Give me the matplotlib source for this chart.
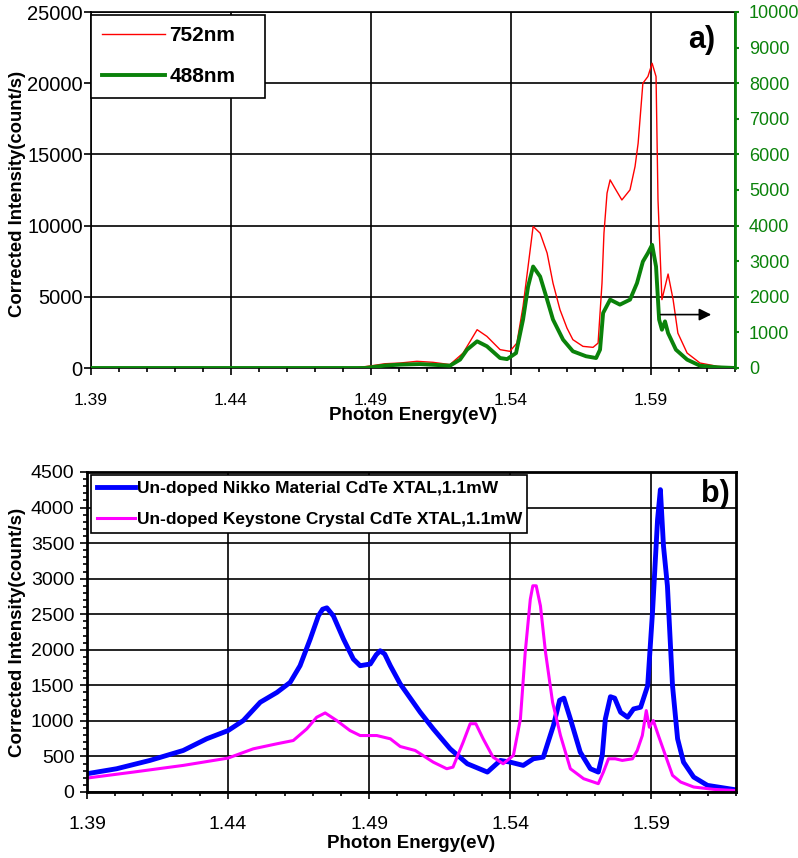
import matplotlib
matplotlib.use("Agg")
import matplotlib.pyplot as plt
from matplotlib.ticker import MultipleLocator

plt.rcParams['font.family'] = ['Liberation Sans', 'DejaVu Sans']

# ---- panel a) : 752nm (left axis), 488nm (right axis)
x_752 = [1.39, 1.45, 1.484, 1.490, 1.4950, 1.5004, 1.5064, 1.5121, 1.5182, 1.5229, 1.5279,
         1.5314, 1.5361, 1.5396, 1.5421, 1.5443, 1.5461, 1.5479, 1.5504, 1.5529,
         1.5550, 1.5575, 1.5600, 1.5621, 1.5657, 1.5693, 1.5711, 1.5725, 1.5732,
         1.5743, 1.5754, 1.5771, 1.5796, 1.5825, 1.5843, 1.5854, 1.5871, 1.5889,
         1.5904, 1.5918, 1.5925, 1.5939, 1.5961, 1.5979, 1.5996, 1.6029, 1.6075,
         1.6136, 1.62]
y_752 = [0, 0, 0, 150, 300, 350, 470, 400, 240, 1050, 2690,
         2220, 1290, 1170, 1750, 4330, 7130, 9940, 9470, 8070,
         5960, 4090, 2800, 1990, 1520, 1450, 1750, 5960, 9470,
         12280, 13210, 12630, 11800, 12510, 14150, 15780, 20000, 20470,
         21400, 20470, 11800, 4800, 6600, 4800, 2450, 1050, 350,
         120, 0]

x_488 = [1.39, 1.45, 1.488, 1.4950, 1.5004, 1.5075, 1.5182, 1.5218, 1.5243, 1.5279, 1.5314,
         1.5361, 1.5386, 1.5418, 1.5443, 1.5461, 1.5479, 1.5504, 1.5529, 1.5550,
         1.5586, 1.5621, 1.5668, 1.5704, 1.5718, 1.5729, 1.5754, 1.5789, 1.5825,
         1.5850, 1.5871, 1.5889, 1.5904, 1.5918, 1.5929, 1.5939, 1.5950, 1.5961,
         1.5989, 1.6029, 1.6075, 1.6136, 1.62]
y_488 = [0, 0, 0, 70, 95, 110, 65, 235, 515, 750, 610,
         280, 250, 420, 1360, 2290, 2850, 2570, 1920, 1360,
         795, 470, 330, 280, 515, 1545, 1920, 1780, 1920,
         2385, 2990, 3230, 3460, 2850, 1360, 1075, 1310, 980,
         515, 235, 65, 20, 0]

# ---- panel b) : two un-doped samples
x_nikko = [1.39, 1.4005, 1.4123, 1.4241, 1.4324, 1.44, 1.4454, 1.4514, 1.4573, 1.4620,
           1.4655, 1.4691, 1.4720, 1.4735, 1.4750, 1.4773, 1.4809, 1.4844, 1.4868, 1.4904,
           1.4925, 1.4939, 1.4955, 1.4975, 1.5010, 1.5081, 1.5127, 1.5187, 1.5248, 1.5319,
           1.5365, 1.5400, 1.5446, 1.5482, 1.5517, 1.5553, 1.5575, 1.5590, 1.5613, 1.5648,
           1.5684, 1.5712, 1.5726, 1.5737, 1.5755, 1.5770, 1.5791, 1.5816, 1.5837, 1.5862,
           1.5887, 1.5904, 1.5922, 1.5932, 1.5943, 1.5957, 1.5975, 1.5993, 1.6014, 1.6050,
           1.6099, 1.62]
y_nikko = [257, 327, 444, 584, 748, 864, 1005, 1262, 1400, 1542,
           1776, 2150, 2477, 2570, 2590, 2477, 2150, 1869, 1776, 1800,
           1930, 1986, 1940, 1776, 1520, 1121, 888, 607, 397, 280,
           444, 420, 374, 467, 490, 935, 1290, 1320, 1028, 561,
           327, 280, 514, 1028, 1340, 1320, 1121, 1051, 1168, 1192,
           1495, 2523, 3832, 4252, 3458, 2897, 1495, 748, 420, 210,
           93, 30]

x_keystone = [1.39, 1.4064, 1.4241, 1.44, 1.4489, 1.4573, 1.4631, 1.4679, 1.4714, 1.4744,
              1.4785, 1.4832, 1.4868, 1.4927, 1.4975, 1.5010, 1.5063, 1.5127, 1.5175,
              1.5197, 1.5233, 1.5258, 1.5278, 1.5304, 1.5339, 1.5375, 1.5411, 1.5436, 1.5453,
              1.5471, 1.5480, 1.5492, 1.5507, 1.5525, 1.5550, 1.5578, 1.5613, 1.5660, 1.5712,
              1.5730, 1.5748, 1.5772, 1.5797, 1.5833, 1.5850, 1.5868, 1.5882, 1.5893,
              1.5907, 1.5925, 1.5950, 1.5975, 1.6004, 1.6050, 1.6121, 1.62]
y_keystone = [196, 280, 374, 477, 607, 678, 724, 888, 1051, 1112,
              1005, 864, 794, 794, 748, 640, 584, 420, 327,
              350, 700, 960, 960, 748, 490, 397, 514, 1028, 1963,
              2710, 2900, 2900, 2617, 1963, 1262, 794, 327, 187, 117,
              280, 467, 467, 444, 467, 584, 794, 1145, 911,
              1005, 794, 514, 234, 140, 70, 37, 20]

x_ticks = [1.39, 1.44, 1.49, 1.54, 1.59]
x_tick_labels = ["1.39", "1.44", "1.49", "1.54", "1.59"]

green = '#0a820a'
W, H = 798, 858
fig = plt.figure(figsize=(W / 100, H / 100), dpi=100)

# ------------------------------------------------------------- panel a
ax1 = fig.add_axes([91 / W, 1 - 368 / H, (735 - 91) / W, (368 - 12) / H])
ax1r = ax1.twinx()

l1, = ax1.plot(x_752, y_752, color='red', lw=1.0, label='752nm')
l2, = ax1r.plot(x_488, y_488, color=green, lw=2.8, label='488nm')

ax1.set_xlim(1.39, 1.62)
ax1.set_ylim(0, 25000)
ax1r.set_ylim(0, 10000)
ax1.set_xticks(x_ticks)
ax1.set_xticklabels(x_tick_labels)
ax1.xaxis.set_minor_locator(MultipleLocator(0.01))
ax1.yaxis.set_major_locator(MultipleLocator(5000))
ax1r.yaxis.set_major_locator(MultipleLocator(1000))

ax1.grid(True, which='major', color='black', lw=1.2)
ax1.tick_params(axis='x', which='major', direction='out', length=5, width=1.2,
                labelsize=12.5, pad=13)
ax1.tick_params(axis='x', which='minor', direction='out', length=3, width=1.2)
ax1.tick_params(axis='y', direction='out', length=5, width=1.2, labelsize=14.5, pad=1)
ax1r.tick_params(axis='y', direction='out', length=3, width=1.5, labelsize=13,
                 colors=green, pad=7)
for s in ax1.spines.values():
    s.set_linewidth(1.2)
ax1r.spines['right'].set_color(green)
ax1r.spines['right'].set_linewidth(2)
for s in ['left', 'top', 'bottom']:
    ax1r.spines[s].set_visible(False)

ax1.set_xlabel('Photon Energy(eV)', fontsize=13.5, fontweight='bold', labelpad=-1)
ax1.set_ylabel('Corrected Intensity(count/s)', fontsize=13.3, fontweight='bold')
ax1.yaxis.set_label_coords(-0.101, 0.49)

leg1 = ax1r.legend(handles=[l1, l2], loc='upper left', bbox_to_anchor=(0, 0.992, 0.27, 0.0),
                   mode='expand', frameon=True, fancybox=False, edgecolor='black',
                   framealpha=1, borderaxespad=0, borderpad=0.55, handlelength=3.0,
                   handletextpad=0.2, labelspacing=1.05,
                   prop={'size': 15, 'weight': 'bold'})
leg1.get_frame().set_linewidth(1.2)

ax1r.annotate('', xy=(1.6125, 1500), xytext=(1.5925, 1500),
              arrowprops=dict(arrowstyle='-|>', color='black', lw=1.2, mutation_scale=18))
ax1r.text(0.97, 0.92, 'a)', transform=ax1.transAxes, ha='right', va='center',
          fontsize=22, fontweight='bold')

# ------------------------------------------------------------- panel b
ax2 = fig.add_axes([87 / W, 1 - 792 / H, (736 - 87) / W, (792 - 472) / H])
b1, = ax2.plot(x_nikko, y_nikko, color='#0000ff', lw=3.5,
               label='Un-doped Nikko Material CdTe XTAL,1.1mW')
b2, = ax2.plot(x_keystone, y_keystone, color='#ff00ff', lw=2.2,
               label='Un-doped Keystone Crystal CdTe XTAL,1.1mW')

ax2.set_xlim(1.39, 1.62)
ax2.set_ylim(0, 4500)
ax2.set_xticks(x_ticks)
ax2.set_xticklabels(x_tick_labels)
ax2.xaxis.set_minor_locator(MultipleLocator(0.01))
ax2.yaxis.set_major_locator(MultipleLocator(500))
ax2.yaxis.set_minor_locator(MultipleLocator(100))
ax2.grid(True, which='major', color='black', lw=1.2)
ax2.tick_params(axis='x', which='major', direction='out', length=5, width=1.2,
                labelsize=14, pad=12)
ax2.tick_params(axis='x', which='minor', direction='out', length=3, width=1.2)
ax2.tick_params(axis='y', which='major', direction='out', length=5, width=1.2,
                labelsize=14, pad=4)
ax2.tick_params(axis='y', which='minor', direction='out', length=3, width=1.2)
for s in ax2.spines.values():
    s.set_linewidth(2)

ax2.set_xlabel('Photon Energy(eV)', fontsize=13.5, fontweight='bold', labelpad=2)
ax2.set_ylabel('Corrected Intensity(count/s)', fontsize=13.5, fontweight='bold')
ax2.yaxis.set_label_coords(-0.094, 0.5)

leg2 = ax2.legend(handles=[b1, b2], loc='upper left', bbox_to_anchor=(0.006, 0.99, 0.672, 0.0),
                  mode='expand', frameon=True, fancybox=False, edgecolor='black',
                  framealpha=1, borderaxespad=0, borderpad=0.35, handlelength=2.2,
                  handletextpad=0.1, labelspacing=0.9,
                  prop={'size': 12.5, 'weight': 'bold'})
leg2.get_frame().set_linewidth(1.2)

ax2.text(0.99, 0.93, 'b)', transform=ax2.transAxes, ha='right', va='center',
         fontsize=22, fontweight='bold')

fig.savefig('out.png', dpi=100)
